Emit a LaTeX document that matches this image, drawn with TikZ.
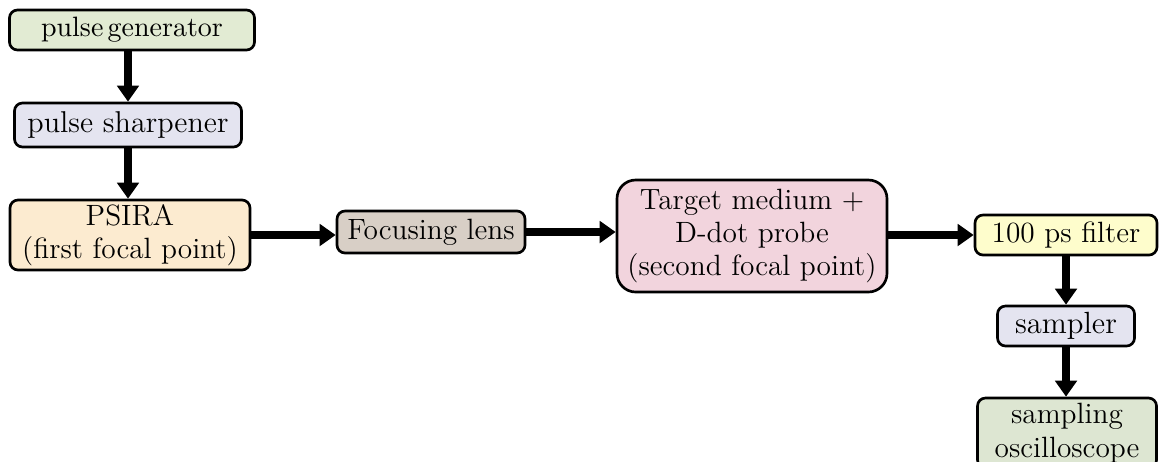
\documentclass[tikz,border=0pt]{standalone}
\usetikzlibrary{arrows.meta}
\definecolor{cgen}{HTML}{E2EBD3}
\definecolor{csharp}{HTML}{E4E4F0}
\definecolor{cpsira}{HTML}{FCEBD0}
\definecolor{clens}{HTML}{D8CFC6}
\definecolor{ctarget}{HTML}{F2D4DD}
\definecolor{cfilt}{HTML}{FEFDCC}
\definecolor{csamp}{HTML}{E4E4F0}
\definecolor{cosc}{HTML}{DDE6D2}
\tikzset{
  blk/.style={draw=black, line width=1pt, rounded corners=3pt, inner sep=0pt, align=center, font=\fontsize{10.5}{12}\selectfont},
  bigblk/.style={blk, font=\fontsize{11}{12.5}\selectfont},
  conn/.style={line width=3pt, -{Triangle[length=6pt,width=8pt]}},
}
\begin{document}
\begin{tikzpicture}[x=0.375pt,y=-0.375pt]
\useasboundingbox (0,0) rectangle (1160,461);
\node[blk, fill=cgen, minimum width=245*0.375pt, minimum height=40*0.375pt] (gen) at (132,30) {pulse\hspace{0.15em}generator};
\node[bigblk, fill=csharp, minimum width=227*0.375pt, minimum height=44*0.375pt, font=\fontsize{11.3}{13}\selectfont] (sharp) at (128,125) {pulse sharpener};
\node[bigblk, fill=cpsira, minimum width=240*0.375pt, minimum height=70*0.375pt] (psira) at (130,235) {PSIRA\\(first focal point)};
\node[bigblk, fill=clens, minimum width=188*0.375pt, minimum height=42*0.375pt] (lens) at (431,232) {Focusing lens};
\node[bigblk, fill=ctarget, rounded corners=7pt, minimum width=270*0.375pt, minimum height=112*0.375pt] (target) at (752,236) {Target medium +\\D-dot probe\\(second focal point)};
\node[bigblk, fill=cfilt, minimum width=182*0.375pt, minimum height=40*0.375pt] (filt) at (1066,235) {100 ps filter};
\node[bigblk, fill=csamp, minimum width=137*0.375pt, minimum height=40*0.375pt, font=\fontsize{11.5}{13}\selectfont] (samp) at (1066,326) {sampler};
\node[bigblk, fill=cosc, minimum width=179*0.375pt, minimum height=70*0.375pt] (osc) at (1067,433) {sampling\\oscilloscope};
\draw[conn] (gen.south -| 128,0) -- (sharp.north);
\draw[conn] (sharp) -- (psira.north -| sharp);
\draw[conn] (psira.east) -- (lens.west |- psira.east);
\draw[conn] (lens) -- (target.west |- lens);
\draw[conn] (target.east |- filt) -- (filt.west);
\draw[conn] (filt) -- (samp.north);
\draw[conn] (samp) -- (osc.north -| samp);
\end{tikzpicture}
\end{document}
